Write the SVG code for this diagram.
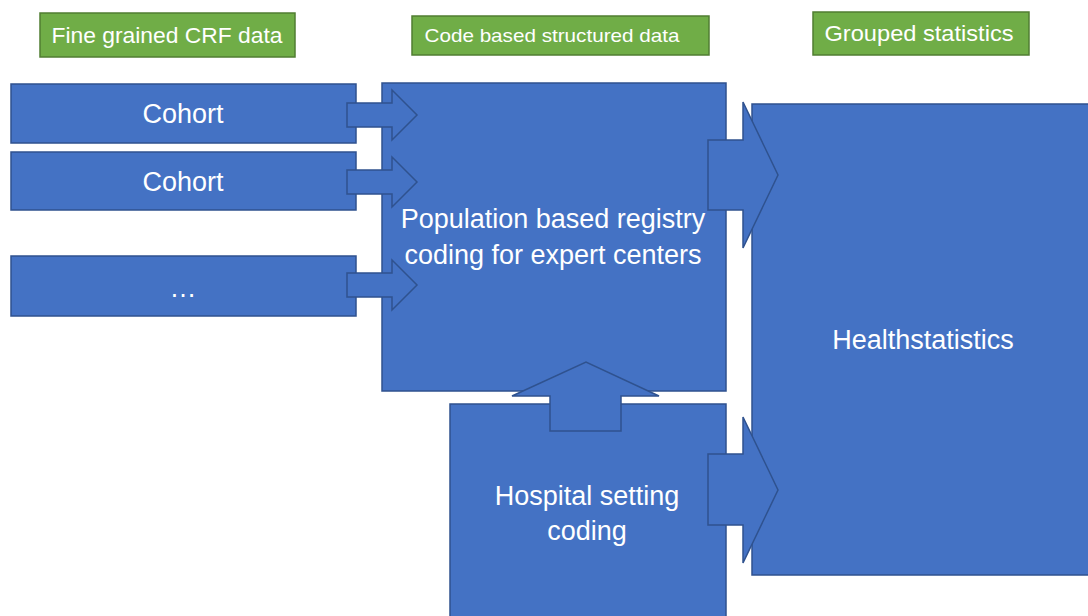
<svg xmlns="http://www.w3.org/2000/svg" width="1088" height="616" viewBox="0 0 1088 616">
<style>
.b{fill:#4472C4;stroke:#2F528F;stroke-width:1.5}
.g{fill:#70AD47;stroke:#507E32;stroke-width:1.5}
.t{font-family:"Liberation Sans",Arial,sans-serif;fill:#fff;text-anchor:middle}
.w{font-size:27px}
.s{font-size:22px}
</style>
<rect width="1088" height="616" fill="#fff"/>
<g id="label-crf"><rect class="g" x="40" y="13" width="255" height="44"/><text class="t s" x="167" y="43" textLength="231" lengthAdjust="spacingAndGlyphs">Fine grained CRF data</text></g>
<g id="label-code"><rect class="g" x="412" y="16" width="297" height="39"/><text class="t" style="font-size:19px" x="552" y="42" textLength="255" lengthAdjust="spacingAndGlyphs">Code based structured data</text></g>
<g id="label-grouped"><rect class="g" x="813" y="12" width="216" height="43"/><text class="t s" x="919" y="41" textLength="189" lengthAdjust="spacingAndGlyphs">Grouped statistics</text></g>
<g id="cohort1"><rect class="b" x="11" y="84" width="345" height="59"/><text class="t w" x="183" y="123">Cohort</text></g>
<g id="cohort2"><rect class="b" x="11" y="152" width="345" height="58"/><text class="t w" x="183" y="191">Cohort</text></g>
<g id="cohort3"><rect class="b" x="11" y="256" width="345" height="60"/><text class="t w" x="183" y="297">…</text></g>
<g id="population"><rect class="b" x="382" y="83" width="344" height="308"/><text class="t w" x="553" y="228">Population based registry</text><text class="t w" x="553" y="264">coding for expert centers</text></g>
<g id="hospital"><rect class="b" x="450" y="404" width="276" height="220"/><text class="t w" x="587" y="505">Hospital setting</text><text class="t w" x="587" y="540">coding</text></g>
<g id="health"><rect class="b" x="752" y="104" width="345" height="471"/><text class="t w" x="923" y="349">Healthstatistics</text></g>
<g id="connectors">
<polygon class="b" points="347,103 392,103 392,90 417,115 392,140 392,127 347,127"/>
<polygon class="b" points="347,170 392,170 392,157 417,182 392,207 392,194 347,194"/>
<polygon class="b" points="347,273 392,273 392,260 417,285 392,310 392,297 347,297"/>
<polygon class="b" points="708,140 743,140 743,102 778,175 743,248 743,210 708,210"/>
<polygon class="b" points="708,454 743,454 743,417 778,490 743,563 743,525 708,525"/>
<polygon class="b" points="550,431 550,396 512,396 586,362 659,396 621,396 621,431"/>
</g>
</svg>
